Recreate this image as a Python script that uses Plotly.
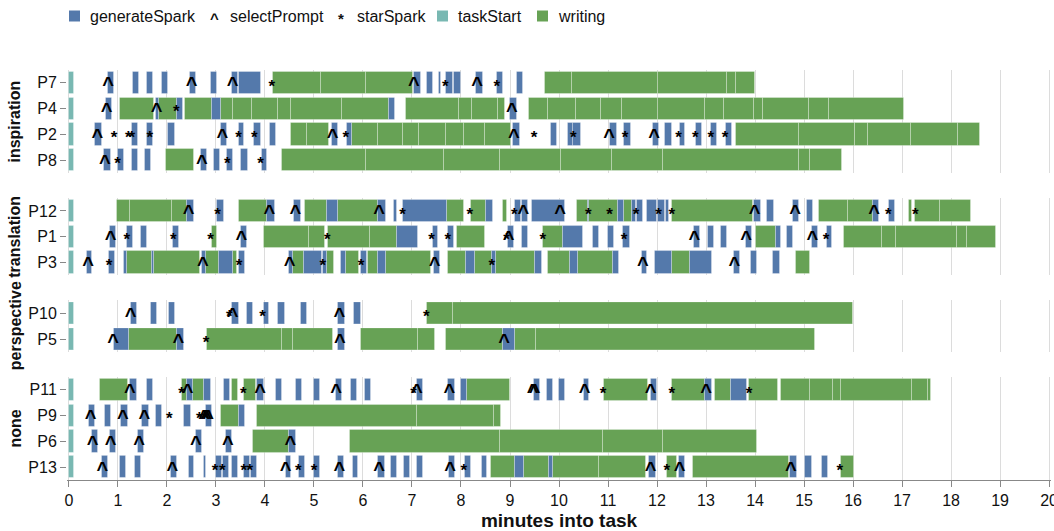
import plotly.graph_objects as go
from plotly.subplots import make_subplots

# Condition groups and the participants in each (top to bottom)
groups = ["inspiration", "translation", "perspective", "none"]
inspiration = ["P7", "P4", "P2", "P8"]
translation = ["P12", "P1", "P3"]
perspective = ["P10", "P5"]
none_group = ["P11", "P9", "P6", "P13"]
members = [inspiration, translation, perspective, none_group]

# Every session opens with a short taskStart event (minutes)
task_start = (0.0, 0.1)

# generateSpark intervals (start, end) in minutes
generate_spark = {
    "P7": [(0.80, 0.92), (1.30, 1.43), (1.59, 1.71), (1.90, 2.03), (2.47, 2.59), (2.90, 3.02),
           (3.32, 3.44), (3.48, 3.92), (7.04, 7.18), (7.30, 7.43), (7.56, 7.60), (7.69, 7.83),
           (7.86, 7.99), (8.31, 8.44), (8.73, 8.85), (9.15, 9.27)],
    "P4": [(0.75, 0.88), (1.77, 1.84), (2.21, 2.33), (2.92, 3.11), (6.54, 6.65), (9.01, 9.15)],
    "P2": [(0.54, 0.68), (1.28, 1.41), (1.60, 1.72), (2.03, 2.16), (3.10, 3.23), (3.46, 3.58),
           (3.78, 3.92), (4.10, 4.22), (5.36, 5.48), (5.67, 5.77), (9.07, 9.20), (9.83, 9.95),
           (10.18, 10.28), (10.29, 10.44), (11.05, 11.18), (11.33, 11.46), (11.92, 12.05),
           (12.17, 12.30), (12.46, 12.57), (12.80, 12.91), (13.10, 13.22), (13.40, 13.53)],
    "P8": [(0.72, 0.85), (1.01, 1.13), (1.28, 1.40), (1.55, 1.67), (2.69, 2.82), (2.96, 3.08),
           (3.23, 3.35), (3.52, 3.65), (3.93, 4.05)],
    "P12": [(2.41, 2.55), (3.03, 3.16), (4.05, 4.20), (4.60, 4.73), (5.26, 5.48), (6.31, 6.46),
            (6.64, 6.69), (6.81, 7.72), (8.52, 8.65), (9.10, 9.22), (9.24, 9.37), (9.44, 10.13),
            (10.59, 10.62), (11.21, 11.33), (11.48, 11.57), (11.59, 11.72), (11.79, 11.99),
            (12.03, 12.16), (12.18, 12.25), (13.97, 14.12), (14.25, 14.39), (14.77, 14.90),
            (15.07, 15.19), (16.41, 16.54), (16.73, 16.86)],
    "P1": [(0.84, 0.97), (1.18, 1.30), (1.46, 1.59), (2.13, 2.25), (3.51, 3.64), (6.69, 7.13),
           (7.42, 7.54), (7.74, 7.86), (8.95, 9.08), (9.25, 9.37), (10.09, 10.48), (10.70, 10.82),
           (11.01, 11.12), (11.31, 11.45), (12.76, 12.88), (13.05, 13.16), (13.31, 13.42),
           (13.81, 13.93), (14.42, 14.54), (14.66, 14.78), (15.16, 15.28), (15.46, 15.58)],
    "P3": [(0.36, 0.48), (0.82, 0.94), (1.13, 1.19), (1.70, 1.74), (2.71, 2.79), (3.07, 3.35),
           (3.47, 3.59), (4.48, 4.58), (4.80, 5.17), (5.19, 5.26), (5.55, 5.65), (5.96, 6.08),
           (6.30, 6.47), (7.44, 7.57), (8.10, 8.29), (8.63, 8.71), (9.51, 9.65), (10.22, 10.39),
           (11.11, 11.23), (11.69, 11.80), (11.96, 12.31), (12.67, 13.12), (13.57, 13.69),
           (13.92, 14.05), (14.37, 14.50)],
    "P10": [(1.26, 1.39), (1.67, 1.79), (2.05, 2.16), (3.32, 3.46), (3.63, 3.75), (3.97, 4.09),
            (4.27, 4.41), (4.73, 4.86), (5.50, 5.63), (5.82, 5.96)],
    "P5": [(0.92, 1.22), (2.21, 2.35), (5.50, 5.64), (8.86, 9.10)],
    "P11": [(1.24, 1.38), (1.60, 1.72), (2.40, 2.54), (2.76, 2.89), (3.16, 3.29), (3.84, 3.98),
            (4.22, 4.34), (4.63, 4.75), (5.00, 5.12), (5.45, 5.57), (5.76, 5.88), (6.04, 6.16),
            (7.10, 7.23), (7.74, 7.88), (7.99, 8.12), (9.49, 9.61), (9.76, 9.88), (10.00, 10.12),
            (10.50, 10.62), (11.87, 11.99), (12.98, 13.12), (13.51, 13.84)],
    "P9": [(0.41, 0.54), (0.73, 0.86), (1.07, 1.21), (1.50, 1.64), (1.77, 1.89), (2.35, 2.49),
           (2.80, 2.92), (3.47, 3.59)],
    "P6": [(0.46, 0.59), (0.84, 0.96), (1.41, 1.54), (2.59, 2.71), (3.20, 3.33), (4.50, 4.63)],
    "P13": [(0.67, 0.79), (1.04, 1.16), (1.35, 1.46), (2.08, 2.21), (2.44, 2.55), (2.76, 2.79),
            (3.01, 3.13), (3.15, 3.27), (3.32, 3.44), (3.58, 3.69), (3.71, 3.83), (4.42, 4.54),
            (4.70, 4.82), (5.01, 5.12), (5.50, 5.62), (5.79, 5.90), (6.31, 6.44), (6.57, 6.69),
            (6.84, 6.96), (7.10, 7.22), (7.76, 7.88), (8.08, 8.20), (8.42, 8.54), (9.10, 9.29),
            (9.80, 9.88), (11.84, 11.97), (12.44, 12.57), (14.71, 14.86), (15.03, 15.16),
            (15.36, 15.48)],
}

# writing stretches (start, end) in minutes
writing = {
    "P7": [(4.16, 7.03), (9.72, 13.99)],
    "P4": [(1.05, 1.73), (1.84, 2.20), (2.37, 2.92), (3.11, 6.54), (6.87, 8.90), (9.39, 17.04)],
    "P2": [(4.54, 5.31), (5.77, 9.03), (13.61, 18.59)],
    "P8": [(1.98, 2.55), (4.34, 15.78)],
    "P12": [(0.99, 2.41), (3.47, 4.05), (4.82, 5.26), (5.48, 6.31), (7.72, 8.06), (8.20, 8.52),
            (8.86, 8.93), (10.37, 10.59), (10.62, 11.21), (11.33, 11.48), (12.31, 13.95),
            (15.31, 16.41), (17.14, 17.21), (17.27, 18.40)],
    "P1": [(2.91, 3.03), (3.99, 5.22), (5.29, 6.69), (7.92, 8.50), (9.68, 10.09), (14.01, 14.42),
           (15.82, 18.92)],
    "P3": [(1.19, 1.70), (1.74, 2.67), (2.79, 3.07), (3.35, 3.42), (4.58, 4.80), (5.26, 5.41),
           (5.65, 5.92), (6.10, 6.30), (6.47, 7.39), (7.73, 8.10), (8.29, 8.63), (8.71, 9.51),
           (9.78, 10.22), (10.39, 11.11), (12.31, 12.67), (14.84, 15.12)],
    "P10": [(7.30, 16.00)],
    "P5": [(1.22, 2.20), (2.81, 5.39), (5.96, 7.46), (7.69, 8.86), (9.10, 15.22)],
    "P11": [(0.63, 1.21), (2.30, 2.40), (2.54, 2.76), (3.32, 3.44), (3.57, 3.82), (8.12, 9.00),
            (10.92, 11.82), (12.31, 12.98), (13.18, 13.51), (13.88, 14.46), (14.54, 17.59)],
    "P9": [(3.10, 3.47), (3.83, 8.81)],
    "P6": [(3.76, 4.50), (5.73, 14.05)],
    "P13": [(8.61, 9.10), (9.29, 9.80), (9.88, 11.78), (12.21, 12.40), (12.73, 14.70),
            (15.75, 16.03)],
}

# boundaries between back-to-back writing events inside a stretch (minutes)
writing_breaks = {
    "P7": [5.14, 6.06, 10.26, 12.03, 13.42, 13.61],
    "P4": [3.34, 3.74, 4.27, 4.54, 5.57, 7.95, 8.22, 8.76, 9.78, 10.35, 10.86, 11.28, 12.03,
           12.98, 13.37, 13.97, 14.17, 15.11, 15.50],
    "P2": [4.85, 6.31, 6.81, 7.15, 7.69, 8.06, 8.50, 14.90, 16.04, 16.31, 17.18, 18.14],
    "P8": [6.07, 7.65, 8.80, 10.05, 11.08, 12.13, 14.90, 15.12],
    "P12": [1.24, 2.10, 15.90, 17.78],
    "P1": [4.90, 6.14, 16.60, 16.87, 18.12, 18.33],
    "P3": [],
    "P10": [7.83],
    "P5": [4.34, 4.57, 7.12, 9.54],
    "P11": [15.12, 15.59, 15.75, 17.20, 17.52],
    "P9": [7.10, 8.68],
    "P6": [8.80, 10.90, 12.13],
    "P13": [10.82],
}

# selectPrompt moments (minutes)
select_prompt = {
    "P7": [0.80, 2.50, 3.34, 7.04, 8.33],
    "P4": [0.77, 1.79, 9.04],
    "P2": [0.58, 3.13, 5.38, 9.08, 11.02, 11.94],
    "P8": [0.73, 2.71],
    "P12": [2.44, 4.09, 4.62, 6.33, 9.27, 10.02, 13.99, 14.82, 16.43],
    "P1": [0.85, 3.52, 8.97, 12.76, 13.82, 15.17],
    "P3": [0.39, 2.73, 4.50, 7.46, 11.71, 13.58],
    "P10": [1.26, 3.34, 5.52],
    "P5": [0.90, 2.23, 5.53, 8.88],
    "P11": [1.24, 2.42, 3.90, 5.45, 7.10, 7.76, 9.46, 9.50, 10.52, 11.87, 13.00],
    "P9": [0.44, 1.10, 1.54, 2.76, 2.80, 2.84],
    "P6": [0.48, 0.85, 1.43, 2.59, 3.24, 4.52],
    "P13": [0.68, 2.11, 4.42, 5.52, 6.33, 7.78, 11.87, 12.46, 14.73],
}

# starSpark moments (minutes)
star_spark = {
    "P7": [4.14, 7.68, 8.73],
    "P4": [2.19],
    "P2": [0.92, 1.21, 1.28, 1.65, 3.46, 3.78, 5.65, 9.49, 10.29, 11.35, 12.44, 12.78, 13.10, 13.39],
    "P8": [0.99, 3.23, 3.91],
    "P12": [3.03, 6.81, 8.18, 9.09, 10.60, 11.03, 11.57, 12.03, 12.30, 16.72, 17.27],
    "P1": [1.18, 2.13, 2.89, 5.27, 7.40, 7.73, 8.93, 9.67, 11.33, 15.45],
    "P3": [0.82, 3.47, 5.18, 5.96, 8.63],
    "P10": [3.27, 3.95, 7.29],
    "P5": [2.80],
    "P11": [2.30, 3.56, 7.03, 10.90, 12.30, 13.88],
    "P9": [2.05, 2.66, 2.78],
    "P6": [],
    "P13": [2.98, 3.13, 3.57, 3.69, 4.68, 5.00, 8.06, 12.20, 15.73],
}

x_ticks = list(range(0, 21))

BLUE = "#5479ab"
GREEN = "#67a255"
TEAL = "#79b8b2"
FONT = "Liberation Sans, Arial, Helvetica, sans-serif"

W, H = 1054, 531
M_L, M_R, M_T, M_B = 67, 3, 70, 51
X_RANGE = [-0.04, 20.04]
PLOT_H = H - M_T - M_B
PLOT_W = W - M_L - M_R
ROW_PX = 25.8


def split_writing(p):
    """Cut each writing stretch into its individual events."""
    out = []
    cuts = writing_breaks.get(p, [])
    for s, e in writing.get(p, []):
        edges = [s] + [c for c in cuts if s < c < e] + [e]
        out.extend(zip(edges[:-1], edges[1:]))
    return out


writing_events = {p: split_writing(p) for p in writing}

fig = make_subplots(
    rows=4, cols=1, shared_xaxes=True,
    row_heights=[len(m) for m in members],
    vertical_spacing=25 / PLOT_H,
)


def interval_bar(names, table, color, row):
    ys, bases, lens = [], [], []
    for i, p in enumerate(names):
        for s, e in table.get(p, []):
            ys.append(i)
            bases.append(s)
            lens.append(e - s)
    fig.add_trace(go.Bar(
        y=ys, x=lens, base=bases, orientation="h", width=0.86,
        marker=dict(color=color, line=dict(color="rgba(255,255,255,0.28)", width=1)),
        showlegend=False, hoverinfo="skip",
    ), row=row, col=1)


def glyphs(names, table, symbol, size, shift_px, row):
    xs, ys = [], []
    for i, p in enumerate(names):
        for t in table.get(p, []):
            xs.append(t)
            ys.append(i + shift_px / ROW_PX)
    fig.add_trace(go.Scatter(
        x=xs, y=ys, mode="text", text=[symbol] * len(xs), textposition="middle center",
        textfont=dict(family=FONT, size=size, color="black", weight="bold"),
        showlegend=False, hoverinfo="skip",
    ), row=row, col=1)


for r, names in enumerate(members, start=1):
    starts = {p: [task_start] for p in names}
    interval_bar(names, starts, TEAL, r)
    interval_bar(names, writing_events, GREEN, r)
    interval_bar(names, generate_spark, BLUE, r)
    glyphs(names, select_prompt, "^", 20, 3.5, r)
    glyphs(names, star_spark, "*", 17, 4.5, r)

    n = len(names)
    fig.update_yaxes(
        row=r, col=1, range=[n - 0.5, -0.5], tickvals=list(range(n)), ticktext=names,
        ticks="outside", ticklen=6, tickcolor="#888", showgrid=False, zeroline=False,
        showline=False, automargin=False, tickfont=dict(family=FONT, size=16, color="#111"),
    )
    fig.update_xaxes(
        row=r, col=1, range=X_RANGE, tickvals=x_ticks, showgrid=True, gridcolor="#dcdcdc",
        gridwidth=1, zeroline=False, showticklabels=(r == 4),
        ticks="outside" if r == 4 else "", ticklen=6, tickcolor="#888",
        showline=(r == 4), linecolor="#888", linewidth=1, ticklabeloverflow="allow",
        automargin=False, tickfont=dict(family=FONT, size=16, color="#111"),
    )

fig.update_xaxes(
    row=4, col=1,
    title=dict(text="minutes into task", standoff=8,
               font=dict(family=FONT, size=19, color="#111", weight="bold")),
)


def px_x(px):
    return (px - M_L) / PLOT_W


def px_y(py):
    return (H - M_B - py) / PLOT_H


# group labels, rotated along the left edge
annotations = []
for r, g in enumerate(groups, start=1):
    yaxis = fig.layout["yaxis" if r == 1 else f"yaxis{r}"]
    d0, d1 = yaxis.domain
    annotations.append(dict(
        text=g, xref="paper", yref="paper", x=px_x(15), y=(d0 + d1) / 2,
        textangle=-90, showarrow=False, xanchor="center", yanchor="middle",
        font=dict(family=FONT, size=16, color="#111", weight="bold"),
    ))

# legend row across the top
legend_y = 16
shapes = []
for x0, color in [(69, BLUE), (437, TEAL), (537, GREEN)]:
    shapes.append(dict(type="rect", xref="paper", yref="paper",
                       x0=px_x(x0), x1=px_x(x0 + 11), y0=px_y(legend_y + 5.5), y1=px_y(legend_y - 5.5),
                       fillcolor=color, line=dict(width=0)))

legend_items = [
    (88, "generateSpark", 16, "normal", 0),
    (208, "^", 15, "bold", 3),
    (228, "selectPrompt", 16, "normal", 0),
    (336, "*", 15, "bold", 3),
    (355, "starSpark", 16, "normal", 0),
    (456, "taskStart", 16, "normal", 0),
    (556, "writing", 16, "normal", 0),
]
for x0, label, size, weight, dy in legend_items:
    annotations.append(dict(
        text=label, xref="paper", yref="paper", x=px_x(x0), y=px_y(legend_y + dy),
        xanchor="left", yanchor="middle", showarrow=False,
        font=dict(family=FONT, size=size, color="#111", weight=weight),
    ))

fig.update_layout(
    width=W, height=H, barmode="overlay", bargap=0,
    margin=dict(l=M_L, r=M_R, t=M_T, b=M_B, autoexpand=False),
    plot_bgcolor="white", paper_bgcolor="white",
    annotations=annotations, shapes=shapes, showlegend=False,
    font=dict(family=FONT),
)

fig.write_html("out.html")
